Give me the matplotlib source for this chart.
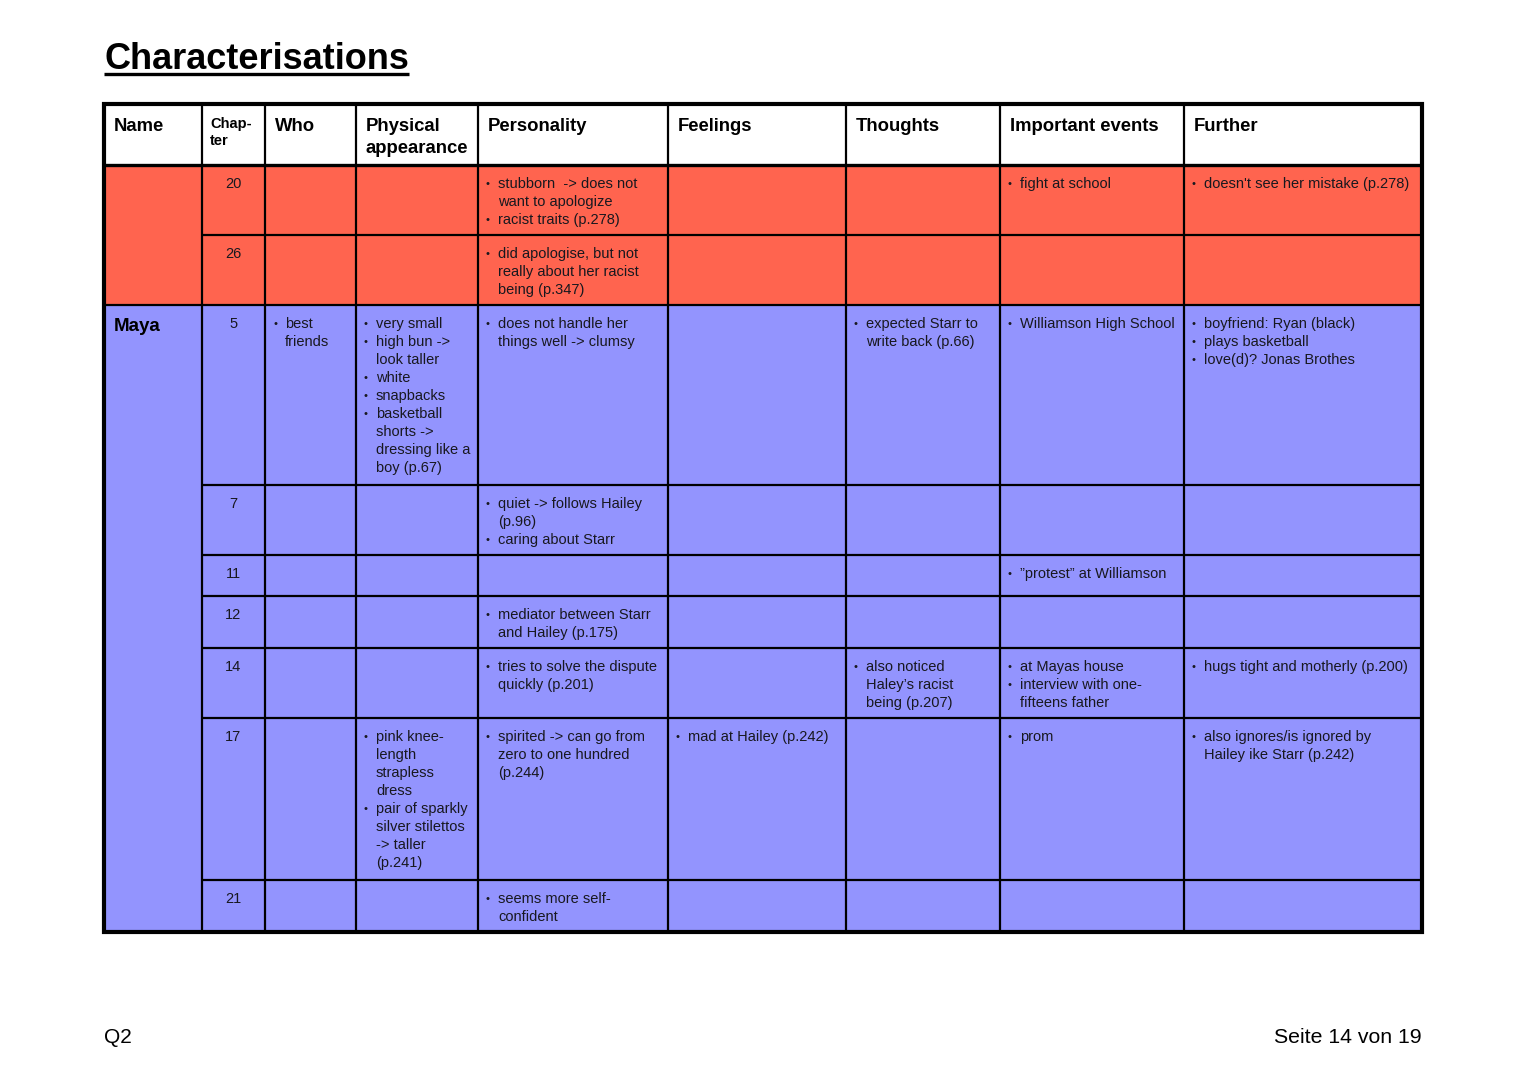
import matplotlib
matplotlib.use("Agg")
import matplotlib.pyplot as plt
from matplotlib.patches import Rectangle

plt.rcParams['font.family'] = ['Liberation Sans', 'DejaVu Sans']

# ---------------- data ----------------
title = "Characterisations"
footer_left = "Q2"
footer_right = "Seite 14 von 19"

columns = ["Name", "Chap-\nter", "Who", "Physical\nappearance", "Personality",
           "Feelings", "Thoughts", "Important events", "Further"]

chapters = ["20", "26", "5", "7", "11", "12", "14", "17", "21"]

# character groups: (name, first row, last row exclusive, colour)
group_names = ["", "Maya"]
group_rows = [(0, 2), (2, 9)]
group_colors = ["#FF644F", "#9394FE"]

who = [[], [], ["best\nfriends"], [], [], [], [], [], []]
physical = [[], [],
            ["very small", "high bun ->\nlook taller", "white", "snapbacks",
             "basketball\nshorts ->\ndressing like a\nboy (p.67)"],
            [], [], [], [],
            ["pink knee-\nlength\nstrapless\ndress",
             "pair of sparkly\nsilver stilettos\n-> taller\n(p.241)"],
            []]
personality = [["stubborn  -> does not\nwant to apologize", "racist traits (p.278)"],
               ["did apologise, but not\nreally about her racist\nbeing (p.347)"],
               ["does not handle her\nthings well -> clumsy"],
               ["quiet -> follows Hailey\n(p.96)", "caring about Starr"],
               [],
               ["mediator between Starr\nand Hailey (p.175)"],
               ["tries to solve the dispute\nquickly (p.201)"],
               ["spirited -> can go from\nzero to one hundred\n(p.244)"],
               ["seems more self-\nconfident"]]
feelings = [[], [], [], [], [], [], [], ["mad at Hailey (p.242)"], []]
thoughts = [[], [], ["expected Starr to\nwrite back (p.66)"], [], [], [],
            ["also noticed\nHaley’s racist\nbeing (p.207)"], [], []]
events = [["fight at school"], [], ["Williamson High School"], [],
          ["”protest” at Williamson"], [],
          ["at Mayas house", "interview with one-\nfifteens father"], ["prom"], []]
further = [["doesn't see her mistake (p.278)"], [],
           ["boyfriend: Ryan (black)", "plays basketball", "love(d)? Jonas Brothes"],
           [], [], [],
           ["hugs tight and motherly (p.200)"],
           ["also ignores/is ignored by\nHailey ike Starr (p.242)"], []]

cell_columns = [who, physical, personality, feelings, thoughts, events, further]

# ---------------- layout (pixels) ----------------
W, H = 1527, 1080
col_edges = [104, 202, 265, 356, 478, 668, 846, 1000, 1184, 1422]
row_edges = [104, 165, 235, 305, 485, 555, 596, 648, 718, 880, 932]

fig = plt.figure(figsize=(W / 100, H / 100), dpi=100)
ax = fig.add_axes([0, 0, 1, 1])
ax.set_xlim(0, W)
ax.set_ylim(H, 0)
ax.axis('off')

body_fs = 10.5
line_h = 18
txt_col = "#18181f"

# backgrounds
ax.add_patch(Rectangle((col_edges[0], row_edges[0]), col_edges[-1] - col_edges[0],
                       row_edges[1] - row_edges[0], facecolor="white", edgecolor="none"))
for (r0, r1), c in zip(group_rows, group_colors):
    y0, y1 = row_edges[r0 + 1], row_edges[r1 + 1]
    ax.add_patch(Rectangle((col_edges[0], y0), col_edges[-1] - col_edges[0], y1 - y0,
                           facecolor=c, edgecolor="none"))

# grid lines
lw_in = 1.6
for x in col_edges[1:-1]:
    ax.plot([x, x], [row_edges[0], row_edges[-1]], color="black", lw=lw_in,
            solid_capstyle='butt')
for i, y in enumerate(row_edges[1:-1], start=1):
    ax.plot([col_edges[1], col_edges[-1]], [y, y], color="black",
            lw=2.4 if i == 1 else lw_in, solid_capstyle='butt')
# horizontal lines in the Name column: header bottom and group boundaries
name_lines = [row_edges[1]] + [row_edges[r0 + 1] for (r0, r1) in group_rows[1:]]
for y in name_lines:
    ax.plot([col_edges[0], col_edges[1]], [y, y], color="black",
            lw=2.4 if y == row_edges[1] else lw_in, solid_capstyle='butt')
# outer frame
ax.add_patch(Rectangle((col_edges[0], row_edges[0]), col_edges[-1] - col_edges[0],
                       row_edges[-1] - row_edges[0], facecolor="none",
                       edgecolor="black", lw=3.0, joinstyle='miter'))

# header text
for j, name in enumerate(columns):
    x = col_edges[j] + 10
    if j == 1:
        x = col_edges[j] + 8
        for k, ln in enumerate(name.split("\n")):
            ax.text(x, row_edges[0] + 24 + 17 * k, ln, fontsize=10.5, fontweight='bold',
                    ha='left', va='baseline', color="black")
    else:
        for k, ln in enumerate(name.split("\n")):
            ax.text(x, row_edges[0] + 27 + 22 * k, ln, fontsize=13.3, fontweight='bold',
                    ha='left', va='baseline', color="black")

# group names
for gname, (r0, r1) in zip(group_names, group_rows):
    if gname:
        ax.text(col_edges[0] + 10, row_edges[r0 + 1] + 26, gname, fontsize=13.5,
                fontweight='bold', ha='left', va='baseline', color="black")

# chapters
for i, ch in enumerate(chapters):
    ax.text((col_edges[1] + col_edges[2]) / 2, row_edges[i + 1] + 23, ch,
            fontsize=body_fs, ha='center', va='baseline', color=txt_col)

# cell bullet text
for cidx, col in enumerate(cell_columns):
    left = col_edges[cidx + 2]
    for i, items in enumerate(col):
        y = row_edges[i + 1] + 23
        for item in items:
            ax.text(left + 10, y - 1, "•", fontsize=8, ha='center', va='baseline',
                    color=txt_col)
            for ln in item.split("\n"):
                ax.text(left + 20, y, ln, fontsize=body_fs, ha='left', va='baseline',
                        color=txt_col)
                y += line_h

# title with underline
t = ax.text(col_edges[0], 69, title, fontsize=26, fontweight='bold', ha='left',
            va='baseline', color="black")
fig.canvas.draw()
bb = t.get_window_extent(renderer=fig.canvas.get_renderer())
x0, x1 = bb.x0, bb.x1
ax.plot([x0, x1], [74, 74], color="black", lw=2.4, solid_capstyle='butt')

# footer
ax.text(col_edges[0], 1043, footer_left, fontsize=15, ha='left', va='baseline', color="black")
ax.text(col_edges[-1], 1043, footer_right, fontsize=15.3, ha='right', va='baseline', color="black")

fig.savefig("out.png", dpi=100, facecolor="white")
